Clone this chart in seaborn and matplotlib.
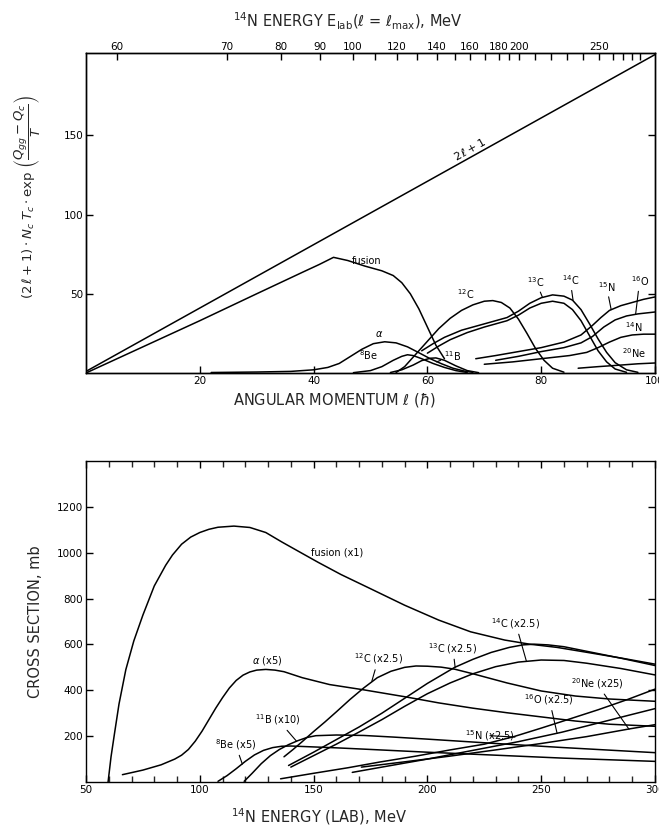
import numpy as np
import pandas as pd
import matplotlib
matplotlib.use("Agg")
import matplotlib.pyplot as plt
import seaborn as sns

# ---------------- data: upper panel (angular momentum l vs weight) ----------------
TOP_2L1_L = [0, 100]
TOP_2L1_V = [1, 201]

TOP_FUSION_L = [0, 10, 20, 30, 38, 41, 43.5, 46, 49, 52, 54, 55.5, 57, 58.5, 60, 61.5, 63]
TOP_FUSION_V = [0, 16.5, 33, 50, 63.5, 68.5, 73, 71, 67.5, 64.5, 61.5, 57, 50, 40.5, 29, 17.5, 9]

TOP_ALPHA_L = [22, 30, 36, 40, 42.5, 44.5, 46.5, 48.5, 50.5, 52.5, 54.5, 56.5, 58.5, 60.5, 62.5, 64.5, 66.5, 68]
TOP_ALPHA_V = [0.3, 0.6, 1.0, 2.0, 3.5, 6.0, 10.5, 15.0, 18.5, 19.7, 19.0, 16.5, 12.8, 9.0, 5.8, 3.0, 1.2, 0.4]

TOP_BE8_L = [47, 50, 52, 54, 55.5, 56.5, 57.5, 59, 61, 63, 65, 67]
TOP_BE8_V = [0.2, 1.5, 4, 8, 10.5, 11.5, 11, 9, 6, 3.5, 1.5, 0.3]

TOP_B11_L = [53.5, 55.5, 57.5, 59, 60.5, 61.5, 63, 65, 67, 69]
TOP_B11_V = [0.3, 2, 5, 7.8, 9.3, 9.5, 8, 4.5, 1.5, 0.2]

TOP_C12_L = [54.5, 56, 58, 60, 62, 64, 66, 68, 70, 71.5, 73, 74.5, 76, 77.5, 79, 80.5, 82, 84]
TOP_C12_V = [0.3, 4, 12, 20, 28, 34.5, 39.5, 43, 45.3, 45.7, 44.5, 41, 34, 25, 15.5, 8, 3, 0.5]

TOP_C13_L = [59, 61, 63, 66, 70, 74, 76, 78, 80, 82, 84, 85.5, 87, 88.5, 90, 91.5, 93, 95, 97]
TOP_C13_V = [14, 18.5, 22.5, 27, 31, 35, 39, 44, 47.5, 49.3, 48.5, 46, 40, 31, 21.5, 13, 6.5, 2, 0.4]

TOP_C14_L = [60, 62, 64, 67, 70, 74, 76, 78, 80, 82, 84, 85.5, 87, 88.5, 90, 91.5, 93, 95]
TOP_C14_V = [12.5, 17, 21, 25.5, 29, 33, 36.5, 41, 44, 45.3, 44, 40, 33, 23.5, 14, 7, 2.5, 0.4]

TOP_N15_L = [68.5, 72, 76, 80, 84, 87, 89, 90.5, 92, 94, 96, 98, 100]
TOP_N15_V = [9, 11, 13.5, 16, 19.5, 24, 30, 35, 39.5, 42.5, 44.5, 46.5, 48]

TOP_O16_L = [72, 76, 80, 84, 87, 89, 91, 93, 95, 97, 100]
TOP_O16_V = [8, 10.5, 13.5, 16, 19, 23, 29, 33.5, 36, 37.3, 38.5]

TOP_N14_L = [70, 75, 80, 85, 88, 90, 92, 94, 96, 98, 100]
TOP_N14_V = [5.5, 7, 9, 11, 13, 16, 19.5, 22.5, 24, 24.5, 24.5]

TOP_NE20_L = [86.5, 90, 94, 97, 100]
TOP_NE20_V = [3, 4, 5, 5.8, 6.3]

# top axis: 14N lab energy at l = l_max
TOP_E_MAJOR = [60, 70, 80, 90, 100, 120, 140, 160, 180, 200, 250]
TOP_E_MAJOR_POS = [5.5, 24.8, 34.3, 41.2, 46.9, 54.6, 61.7, 67.5, 72.6, 76.1, 90.2]
TOP_E_MINOR = [110, 130, 150, 170, 190, 210, 220, 230, 240, 260, 270, 280, 290]
TOP_E_MINOR_POS = [50.8, 58.1, 64.9, 70.2, 74.3, 78.9, 81.8, 84.6, 87.4, 92.6, 94.4, 95.9, 97.3]

# ---------------- data: lower panel (lab energy vs cross section) ----------------
BOT_FUSION_E = [59.7, 61, 62.5, 64.5, 67.5, 71, 75, 80, 85, 88, 92, 96, 100, 104, 108, 115, 122, 129, 136,
                143, 152, 162, 175, 190, 205, 219, 234, 245, 257, 271, 286, 300]
BOT_FUSION_V = [0, 110, 210, 340, 490, 615, 728, 855, 945, 990, 1037, 1068, 1088, 1102, 1111, 1116, 1110, 1088, 1047,
                1008, 958, 905, 843, 771, 706, 655, 619, 601, 587, 564, 539, 514]

BOT_ALPHA_E = [66, 75, 83, 89, 92, 95, 98, 101, 104, 107, 110, 113, 116, 119, 122, 125, 129, 133, 137,
               145, 157, 172, 190, 205, 220, 235, 250, 265, 280, 300]
BOT_ALPHA_V = [32, 52, 75, 100, 117, 142, 178, 222, 272, 322, 368, 410, 443, 466, 480, 488, 491, 488, 481,
               455, 425, 402, 372, 345, 322, 302, 284, 266, 252, 243]

BOT_BE8_E = [108, 112, 116, 120, 124, 128, 132, 136, 140, 150, 160, 175, 200, 230, 260, 300]
BOT_BE8_V = [3, 28, 58, 90, 118, 138, 150, 156, 157, 153, 149, 142, 130, 117, 104, 90]

BOT_B11_E = [119.5, 123, 127, 131, 135, 139, 143, 147, 151, 160, 172, 185, 200, 230, 260, 300]
BOT_B11_V = [3, 38, 80, 115, 142, 163, 180, 194, 202, 205, 203, 196, 187, 168, 150, 128]

BOT_C12_E = [137, 141, 145, 150, 155, 160, 166, 172, 178, 184, 190, 195, 200, 206, 212, 220,
             235, 250, 265, 280, 300]
BOT_C12_V = [110, 142, 176, 220, 262, 306, 360, 410, 455, 483, 500, 506, 505, 501, 492, 472,
             432, 397, 375, 362, 352]

BOT_C13_E = [139, 150, 160, 170, 180, 190, 200, 212, 220, 228, 236, 242, 247, 253, 260, 270, 285, 300]
BOT_C13_V = [72, 130, 185, 240, 300, 365, 430, 500, 535, 565, 587, 598, 601, 598, 590, 570, 540, 508]

BOT_C14_E = [140, 150, 160, 170, 180, 190, 200, 210, 220, 230, 240, 250, 260, 270, 285, 300]
BOT_C14_V = [65, 115, 165, 218, 272, 330, 385, 432, 472, 503, 523, 532, 530, 518, 495, 467]

BOT_N15_E = [135.5, 150, 165, 179, 195, 210, 225, 238, 250, 261, 275, 288, 300]
BOT_N15_V = [14, 38, 62, 87, 113, 140, 165, 198, 235, 270, 315, 360, 405]

BOT_O16_E = [167, 180, 200, 220, 240, 259, 275, 288, 300]
BOT_O16_V = [42, 65, 100, 138, 176, 217, 257, 290, 320]

BOT_NE20_E = [171, 190, 210, 230, 250, 270, 289, 300]
BOT_NE20_V = [65, 88, 113, 140, 168, 198, 232, 250]

# ---------------- labels ----------------
TOP_LABELS = [  # text, x, y, leader target (x, y) or None
    ("fusion", 49.3, 70.5, None),
    (r"$\alpha$", 51.6, 24.5, None),
    (r"$^{8}$Be", 49.6, 11.0, None),
    (r"$^{11}$B", 64.4, 10.8, (61.6, 7.0)),
    (r"$^{12}$C", 66.7, 49.5, None),
    (r"$^{13}$C", 79.1, 57.5, (80.2, 48.0)),
    (r"$^{14}$C", 85.1, 58.5, (85.6, 46.0)),
    (r"$^{15}$N", 91.5, 54.5, (92.3, 40.0)),
    (r"$^{16}$O", 97.3, 58.0, (96.6, 37.2)),
    (r"$^{14}$N", 96.2, 29.0, None),
    (r"$^{20}$Ne", 96.3, 12.3, None),
]

BOT_LABELS = [
    ("fusion (x1)", 160.5, 1003, None),
    (r"$\alpha$ (x5)", 129.5, 530, None),
    (r"$^{8}$Be (x5)", 115.7, 163, (118.7, 78)),
    (r"$^{11}$B (x10)", 134.3, 272, (142.5, 178)),
    (r"$^{12}$C (x2.5)", 178.4, 536, (175.6, 440)),
    (r"$^{13}$C (x2.5)", 211.2, 582, (212.2, 500)),
    (r"$^{14}$C (x2.5)", 238.8, 691, (243.5, 527)),
    (r"$^{20}$Ne (x25)", 274.4, 430, (288.6, 230)),
    (r"$^{16}$O (x2.5)", 253.6, 358, (257.0, 212)),
    (r"$^{15}$N (x2.5)", 227.5, 202, (238.5, 196)),
]


def long_frame(series, xname, yname):
    frames = []
    for name, xs, ys in series:
        frames.append(pd.DataFrame({xname: xs, yname: ys, "curve": name}))
    return pd.concat(frames, ignore_index=True)


top_df = long_frame([
    ("2l+1", TOP_2L1_L, TOP_2L1_V),
    ("fusion", TOP_FUSION_L, TOP_FUSION_V),
    ("alpha", TOP_ALPHA_L, TOP_ALPHA_V),
    ("8Be", TOP_BE8_L, TOP_BE8_V),
    ("11B", TOP_B11_L, TOP_B11_V),
    ("12C", TOP_C12_L, TOP_C12_V),
    ("13C", TOP_C13_L, TOP_C13_V),
    ("14C", TOP_C14_L, TOP_C14_V),
    ("15N", TOP_N15_L, TOP_N15_V),
    ("16O", TOP_O16_L, TOP_O16_V),
    ("14N", TOP_N14_L, TOP_N14_V),
    ("20Ne", TOP_NE20_L, TOP_NE20_V),
], "l", "w")

bot_df = long_frame([
    ("fusion", BOT_FUSION_E, BOT_FUSION_V),
    ("alpha", BOT_ALPHA_E, BOT_ALPHA_V),
    ("8Be", BOT_BE8_E, BOT_BE8_V),
    ("11B", BOT_B11_E, BOT_B11_V),
    ("12C", BOT_C12_E, BOT_C12_V),
    ("13C", BOT_C13_E, BOT_C13_V),
    ("14C", BOT_C14_E, BOT_C14_V),
    ("15N", BOT_N15_E, BOT_N15_V),
    ("16O", BOT_O16_E, BOT_O16_V),
    ("20Ne", BOT_NE20_E, BOT_NE20_V),
], "E", "sigma")

# ---------------- style ----------------
sns.set_theme(style="ticks")
plt.rcParams["font.family"] = ["DejaVu Sans"]
plt.rcParams["mathtext.fontset"] = "dejavusans"
plt.rcParams["axes.linewidth"] = 1.0
plt.rcParams["axes.edgecolor"] = "black"

LW = 1.1
TICK_FS = 7.5
LAB_FS = 7.0
AX_FS = 10.5

fig = plt.figure(figsize=(6.59, 8.27), dpi=100)
fig.patch.set_facecolor("white")
ax1 = fig.add_axes([0.1305, 0.549, 0.8634, 0.3869])
ax2 = fig.add_axes([0.1305, 0.0544, 0.8634, 0.3882])

# ---------------- upper panel ----------------
sns.lineplot(data=top_df, x="l", y="w", units="curve", estimator=None, sort=False,
             color="black", lw=LW, ax=ax1, legend=False)
ax1.set_xlim(0, 100)
ax1.set_ylim(0, 202)
ax1.set_xticks([20, 40, 60, 80, 100])
ax1.set_yticks([50, 100, 150])
ax1.tick_params(axis="both", which="major", direction="in", length=5, width=1.0,
                labelsize=TICK_FS, pad=2, colors="black", right=True)
ax1.set_xlabel(r"ANGULAR MOMENTUM $\ell$ ($\hbar$)", fontsize=AX_FS, labelpad=3)
ax1.xaxis.set_label_coords(0.436, -0.055)
ax1.set_ylabel(r"$(2\,\ell+1)\cdot N_c\;T_c\cdot \exp\,\left(\dfrac{Q_{gg}-Q_c}{T}\right)$",
               fontsize=9.5)
ax1.yaxis.set_label_coords(-0.075, 0.55)
for s in ax1.spines.values():
    s.set_visible(True)
    s.set_color("black")

ax1t = ax1.twiny()
ax1t.set_xlim(0, 100)
ax1t.set_xticks(TOP_E_MAJOR_POS, labels=[str(v) for v in TOP_E_MAJOR])
ax1t.set_xticks(TOP_E_MINOR_POS, minor=True)
ax1t.tick_params(axis="x", which="both", direction="in", length=5, width=1.0,
                 labelsize=TICK_FS, pad=1, colors="black")
ax1t.set_xlabel(r"$^{14}$N ENERGY E$_{\rm lab}$($\ell$ = $\ell_{\rm max}$), MeV",
                fontsize=AX_FS, labelpad=6)
ax1t.xaxis.set_label_coords(0.46, 1.08)
for s in ax1t.spines.values():
    s.set_color("black")

# 2l+1 label along the line
ax1.text(67.4, 141.5, r"$2\,\ell+1$", rotation=np.degrees(np.arctan2(200, 100)),
         transform_rotates_text=True, rotation_mode="anchor", ha="center", va="center",
         fontsize=8, color="black")

for text, x, y, target in TOP_LABELS:
    if target is None:
        ax1.text(x, y, text, ha="center", va="center", fontsize=LAB_FS, color="black")
    else:
        ax1.annotate(text, xy=target, xytext=(x, y), ha="center", va="center",
                     fontsize=LAB_FS, color="black",
                     arrowprops=dict(arrowstyle="-", lw=0.8, color="black",
                                     shrinkA=0, shrinkB=0))

# ---------------- lower panel ----------------
sns.lineplot(data=bot_df, x="E", y="sigma", units="curve", estimator=None, sort=False,
             color="black", lw=LW, ax=ax2, legend=False)
ax2.set_xlim(50, 300)
ax2.set_ylim(0, 1400)
ax2.set_xticks([50, 100, 150, 200, 250, 300])
ax2.set_xticks(np.arange(60, 300, 10), minor=True)
ax2.set_yticks([200, 400, 600, 800, 1000, 1200])
ax2.tick_params(axis="both", which="major", direction="in", length=5, width=1.0,
                labelsize=TICK_FS, pad=2, colors="black", right=True, top=True)
ax2.tick_params(axis="x", which="minor", direction="in", length=4, width=1.0,
                top=True, bottom=True)
ax2.set_xlabel(r"$^{14}$N ENERGY (LAB), MeV", fontsize=AX_FS)
ax2.xaxis.set_label_coords(0.41, -0.075)
ax2.set_ylabel("CROSS SECTION, mb", fontsize=AX_FS)
ax2.yaxis.set_label_coords(-0.075, 0.5)
for s in ax2.spines.values():
    s.set_visible(True)
    s.set_color("black")

for text, x, y, target in BOT_LABELS:
    if target is None:
        ax2.text(x, y, text, ha="center", va="center", fontsize=LAB_FS, color="black")
    else:
        ax2.annotate(text, xy=target, xytext=(x, y), ha="center", va="center",
                     fontsize=LAB_FS, color="black",
                     arrowprops=dict(arrowstyle="-", lw=0.8, color="black",
                                     shrinkA=0, shrinkB=0))

fig.savefig("out.png", dpi=100, facecolor="white")
